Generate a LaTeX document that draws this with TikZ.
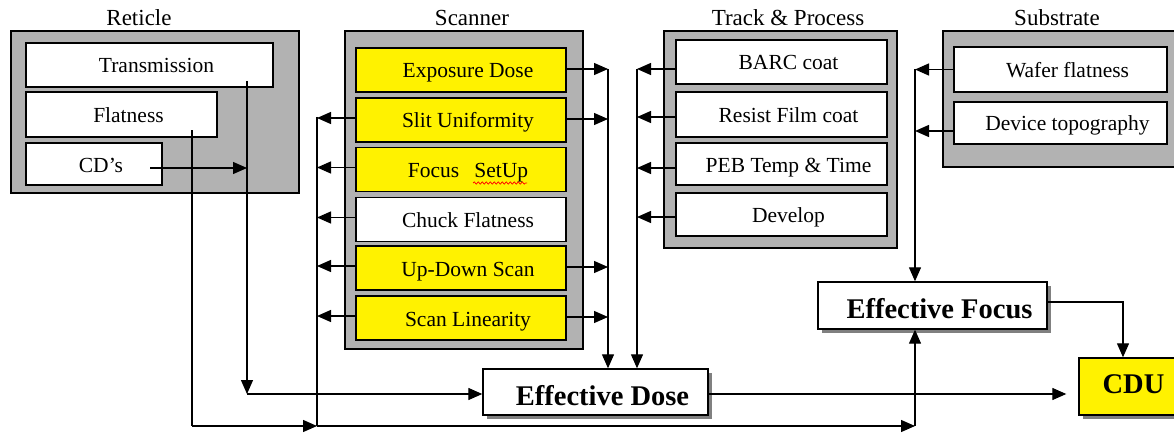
\documentclass[tikz,border=0pt]{standalone}
\usepackage{fontspec}
\setmainfont{Liberation Serif}
\usetikzlibrary{arrows.meta,shadows,decorations.pathmorphing,calc}
\definecolor{boxgray}{RGB}{178,178,178}
\definecolor{shadowgray}{RGB}{128,128,128}
\newcommand{\tsh}{\hspace*{14pt}}
\begin{document}
\begin{tikzpicture}[x=1pt,y=-1pt,
  sz/.style 2 args={minimum width=#1pt, minimum height=#2pt},
  grp/.style={draw=black, line width=1.6pt, fill=boxgray, inner sep=0pt},
  item/.style={draw=black, line width=1.6pt, fill=white, inner sep=0pt,
    font=\fontsize{21.5}{24}\selectfont, text height=16pt, text depth=0pt},
  yel/.style={item, fill=yellow},
  ttl/.style={font=\fontsize{23}{26}\selectfont, inner sep=0pt},
  res/.style={draw=black, line width=1.4pt, fill=white, inner sep=0pt,
    font=\fontsize{28.5}{32}\selectfont\bfseries, text height=26pt, text depth=0pt,
    drop shadow={shadow xshift=4pt, shadow yshift=-4pt, fill=shadowgray, opacity=1}},
  conn/.style={line width=1.3pt, draw=black},
  arr/.style={conn, -{Triangle[length=14pt,width=12pt]}}]
\useasboundingbox (0,0) rectangle (1174,433);

% group boxes and titles
\node[grp, sz={288}{162}] (reticle) at (155,112) {};
\node[ttl] (reticleT) at (139,18) {Reticle};
\node[grp, sz={238}{318}] (scanner) at (464,190) {};
\node[ttl] (scannerT) at (472,18) {Scanner};
\node[grp, sz={233}{217}] (track) at (780.5,139.5) {};
\node[ttl] (trackT) at (788,18) {Track \& Process};
\node[grp, sz={237}{136}] (substrate) at (1061.5,99) {};
\node[ttl] (substrateT) at (1057,18) {Substrate};

% reticle items
\node[item, sz={247}{44}] (trans) at (149.5,65) {\tsh Transmission};
\node[item, sz={191}{45}] (rflat) at (121.5,114.5) {\tsh Flatness};
\node[item, sz={136}{42}] (cds) at (94,164) {\tsh CD’s};

% scanner items
\node[yel, sz={210}{44}] (expo) at (461,70) {\tsh Exposure Dose};
\node[yel, sz={210}{44}] (slit) at (461,120) {\tsh Slit Uniformity};
\node[yel, sz={210}{44}] (focus) at (461,169.5) {\tsh Focus\hspace{15pt}SetUp};
\node[item, sz={210}{44}] (chuck) at (461,219.5) {\tsh Chuck Flatness};
\node[yel, sz={210}{44}] (updown) at (461,268) {\tsh Up-Down Scan};
\node[yel, sz={210}{44}] (scanlin) at (461,318) {\tsh Scan Linearity};
\draw[red, line width=0.7pt, decorate, decoration={snake,amplitude=1.2pt,segment length=4pt}] (473,183) -- (527,183);

% track items
\node[item, sz={211}{44}] (barc) at (781.5,62) {\tsh BARC coat};
\node[item, sz={211}{45}] (resist) at (781.5,114.5) {\tsh Resist Film coat};
\node[item, sz={211}{42}] (peb) at (781.5,164) {\tsh PEB Temp \& Time};
\node[item, sz={211}{43}] (develop) at (781.5,214.5) {\tsh Develop};

% substrate items
\node[item, sz={213}{45}] (wafer) at (1060.5,69.5) {\tsh Wafer flatness};
\node[item, sz={213}{42}] (device) at (1060.5,123) {\tsh Device topography};

% result boxes
\node[res, sz={229}{47}] (ef) at (932.5,305.5) {\tsh Effective Focus};
\node[res, sz={225}{46}] (ed) at (595.5,392) {\tsh Effective Dose};
\node[res, sz={109}{57}, fill=yellow, text height=13pt] (cdu) at (1133.5,386.5) {CDU};

% junction coordinates
\coordinate (tvTop) at (247,81);
\coordinate (tvBot) at (247,394);
\coordinate (cdsS) at (150,168);
\coordinate (fvTop) at (192,130);
\coordinate (fvBot) at (192,426);
\coordinate (slTop) at (317,117);
\coordinate (slBot) at (317,426);
\coordinate (srTop) at (608,69);
\coordinate (tlTop) at (637,69);
\coordinate (subTop) at (915,69);
\coordinate (efBot) at (915,426);
\coordinate (cduTurn) at (1123,302);

% reticle connectors
\draw[arr] (cdsS) -- (cdsS -| tvTop);
\draw[arr] (tvTop) -- (tvBot);
\draw[arr] (tvBot) -- (ed.west |- tvBot);
\draw[conn] (fvTop) -- (fvBot);
\draw[arr] (fvBot) -- (slBot);
\draw[arr] (slBot) -- (efBot);
\draw[arr] (efBot) -- (efBot |- ef.south);

% scanner left
\draw[conn] (slTop) -- (slBot);
\foreach \n in {slit,focus,chuck,updown,scanlin}
  \draw[arr] ([yshift=2pt]\n.west) -- ([yshift=2pt]\n.west -| slTop);
% scanner right
\foreach \n in {expo,slit,updown,scanlin}
  \draw[arr] ([yshift=1pt]\n.east) -- ([yshift=1pt]\n.east -| srTop);
\draw[arr] (srTop) -- (srTop |- ed.north);

% track
\draw[arr] (tlTop) -- (tlTop |- ed.north);
\draw[arr] ([yshift=-7pt]barc.west) -- ([yshift=-7pt]barc.west -| tlTop);
\draw[arr] ([yshift=-2.5pt]resist.west) -- ([yshift=-2.5pt]resist.west -| tlTop);
\draw[arr] ([yshift=-4pt]peb.west) -- ([yshift=-4pt]peb.west -| tlTop);
\draw[arr] ([yshift=-2.5pt]develop.west) -- ([yshift=-2.5pt]develop.west -| tlTop);

% substrate
\draw[arr] (subTop) -- (subTop |- ef.north);
\draw[arr] (wafer.west) -- (wafer.west -| subTop);
\draw[arr] ([yshift=-8pt]device.west) -- ([yshift=-8pt]device.west -| subTop);

% to CDU
\draw[arr] (ef.east |- cduTurn) -- (cduTurn) -- (cduTurn |- cdu.north);
\draw[arr, shorten >=12pt] (ed.east |- tvBot) -- (cdu.west |- tvBot);
\end{tikzpicture}
\end{document}
